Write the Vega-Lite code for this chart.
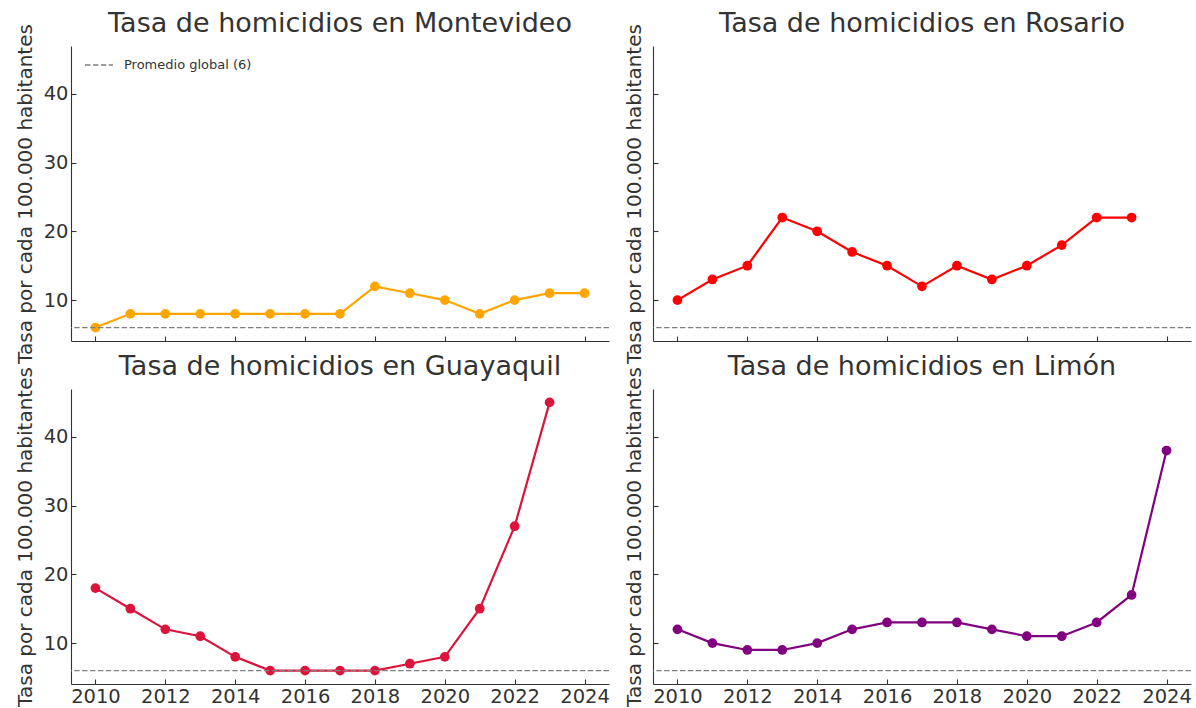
{
  "$schema": "https://vega.github.io/schema/vega-lite/v6.json",
  "padding": {"left": 15, "top": 9, "right": 0, "bottom": 0},
  "background": "white",
  "config": {
    "font": "DejaVu Sans",
    "view": {"stroke": null},
    "axis": {
      "grid": false,
      "domainColor": "#333333",
      "tickColor": "#333333",
      "labelColor": "#333333",
      "titleColor": "#333333",
      "labelFontSize": 19.5,
      "titleFontSize": 20,
      "titleFontWeight": "normal",
      "tickSize": -5,
      "labelPadding": 8,
      "domainWidth": 1.1,
      "tickWidth": 1.1,
      "labelFlush": false,
      "labelOverlap": false
    },
    "axisY": {"titlePadding": 8},
    "title": {"fontSize": 27, "fontWeight": "normal", "color": "#333333", "offset": -14, "anchor": "middle"},
    "legend": {"labelColor": "#333333"}
  },
  "datasets": {
    "tasas": [
      {"ciudad": "Montevideo", "anio": 2010, "tasa": 6},
      {"ciudad": "Montevideo", "anio": 2011, "tasa": 8},
      {"ciudad": "Montevideo", "anio": 2012, "tasa": 8},
      {"ciudad": "Montevideo", "anio": 2013, "tasa": 8},
      {"ciudad": "Montevideo", "anio": 2014, "tasa": 8},
      {"ciudad": "Montevideo", "anio": 2015, "tasa": 8},
      {"ciudad": "Montevideo", "anio": 2016, "tasa": 8},
      {"ciudad": "Montevideo", "anio": 2017, "tasa": 8},
      {"ciudad": "Montevideo", "anio": 2018, "tasa": 12},
      {"ciudad": "Montevideo", "anio": 2019, "tasa": 11},
      {"ciudad": "Montevideo", "anio": 2020, "tasa": 10},
      {"ciudad": "Montevideo", "anio": 2021, "tasa": 8},
      {"ciudad": "Montevideo", "anio": 2022, "tasa": 10},
      {"ciudad": "Montevideo", "anio": 2023, "tasa": 11},
      {"ciudad": "Montevideo", "anio": 2024, "tasa": 11},
      {"ciudad": "Rosario", "anio": 2010, "tasa": 10},
      {"ciudad": "Rosario", "anio": 2011, "tasa": 13},
      {"ciudad": "Rosario", "anio": 2012, "tasa": 15},
      {"ciudad": "Rosario", "anio": 2013, "tasa": 22},
      {"ciudad": "Rosario", "anio": 2014, "tasa": 20},
      {"ciudad": "Rosario", "anio": 2015, "tasa": 17},
      {"ciudad": "Rosario", "anio": 2016, "tasa": 15},
      {"ciudad": "Rosario", "anio": 2017, "tasa": 12},
      {"ciudad": "Rosario", "anio": 2018, "tasa": 15},
      {"ciudad": "Rosario", "anio": 2019, "tasa": 13},
      {"ciudad": "Rosario", "anio": 2020, "tasa": 15},
      {"ciudad": "Rosario", "anio": 2021, "tasa": 18},
      {"ciudad": "Rosario", "anio": 2022, "tasa": 22},
      {"ciudad": "Rosario", "anio": 2023, "tasa": 22},
      {"ciudad": "Guayaquil", "anio": 2010, "tasa": 18},
      {"ciudad": "Guayaquil", "anio": 2011, "tasa": 15},
      {"ciudad": "Guayaquil", "anio": 2012, "tasa": 12},
      {"ciudad": "Guayaquil", "anio": 2013, "tasa": 11},
      {"ciudad": "Guayaquil", "anio": 2014, "tasa": 8},
      {"ciudad": "Guayaquil", "anio": 2015, "tasa": 6},
      {"ciudad": "Guayaquil", "anio": 2016, "tasa": 6},
      {"ciudad": "Guayaquil", "anio": 2017, "tasa": 6},
      {"ciudad": "Guayaquil", "anio": 2018, "tasa": 6},
      {"ciudad": "Guayaquil", "anio": 2019, "tasa": 7},
      {"ciudad": "Guayaquil", "anio": 2020, "tasa": 8},
      {"ciudad": "Guayaquil", "anio": 2021, "tasa": 15},
      {"ciudad": "Guayaquil", "anio": 2022, "tasa": 27},
      {"ciudad": "Guayaquil", "anio": 2023, "tasa": 45},
      {"ciudad": "Limón", "anio": 2010, "tasa": 12},
      {"ciudad": "Limón", "anio": 2011, "tasa": 10},
      {"ciudad": "Limón", "anio": 2012, "tasa": 9},
      {"ciudad": "Limón", "anio": 2013, "tasa": 9},
      {"ciudad": "Limón", "anio": 2014, "tasa": 10},
      {"ciudad": "Limón", "anio": 2015, "tasa": 12},
      {"ciudad": "Limón", "anio": 2016, "tasa": 13},
      {"ciudad": "Limón", "anio": 2017, "tasa": 13},
      {"ciudad": "Limón", "anio": 2018, "tasa": 13},
      {"ciudad": "Limón", "anio": 2019, "tasa": 12},
      {"ciudad": "Limón", "anio": 2020, "tasa": 11},
      {"ciudad": "Limón", "anio": 2021, "tasa": 11},
      {"ciudad": "Limón", "anio": 2022, "tasa": 13},
      {"ciudad": "Limón", "anio": 2023, "tasa": 17},
      {"ciudad": "Limón", "anio": 2024, "tasa": 38}
    ],
    "promedio": [{"etiqueta": "Promedio global (6)", "valor": 6}]
  },
  "columns": 2,
  "spacing": {"row": 48, "column": 44},
  "bounds": "flush",
  "resolve": {"scale": {"x": "independent", "y": "independent"}},
  "concat": [
    {
      "title": "Tasa de homicidios en Montevideo",
      "width": 538, "height": 295,
      "layer": [
        {
          "data": {"name": "tasas"},
          "transform": [{"filter": "datum.ciudad === 'Montevideo'"}],
          "mark": {"type": "line", "color": "#FFA500", "strokeWidth": 2.2, "point": {"filled": true, "size": 95, "color": "#FFA500", "opacity": 1}},
          "encoding": {
            "x": {"field": "anio", "type": "quantitative", "scale": {"domain": [2009.3, 2024.7], "nice": false, "zero": false}, "axis": {"values": [2010, 2012, 2014, 2016, 2018, 2020, 2022, 2024], "format": "d", "title": null, "labels": false}},
            "y": {"field": "tasa", "type": "quantitative", "scale": {"domain": [4.05, 46.95], "nice": false, "zero": false}, "axis": {"values": [10, 20, 30, 40], "title": "Tasa por cada 100.000 habitantes", "labels": true}}
          }
        },
        {
          "data": {"name": "promedio"},
          "mark": {"type": "rule", "color": "#808080", "strokeWidth": 1.4},
          "encoding": {
            "y": {"field": "valor", "type": "quantitative"},
            "strokeDash": {"field": "etiqueta", "type": "nominal", "scale": {"range": [[5.5, 2.4]]},
              "legend": {"orient": "none", "legendX": 13, "legendY": 4, "title": null, "labelFontSize": 13, "labelColor": "#333333", "symbolType": "stroke", "symbolSize": 784, "symbolStrokeColor": "#808080", "symbolStrokeWidth": 1.4, "labelOffset": 10, "padding": 0}}
          }
        }
      ]
    },
    {
      "title": "Tasa de homicidios en Rosario",
      "width": 538, "height": 295,
      "layer": [
        {
          "data": {"name": "tasas"},
          "transform": [{"filter": "datum.ciudad === 'Rosario'"}],
          "mark": {"type": "line", "color": "#FF0000", "strokeWidth": 2.2, "point": {"filled": true, "size": 95, "color": "#FF0000", "opacity": 1}},
          "encoding": {
            "x": {"field": "anio", "type": "quantitative", "scale": {"domain": [2009.3, 2024.7], "nice": false, "zero": false}, "axis": {"values": [2010, 2012, 2014, 2016, 2018, 2020, 2022, 2024], "format": "d", "title": null, "labels": false}},
            "y": {"field": "tasa", "type": "quantitative", "scale": {"domain": [4.05, 46.95], "nice": false, "zero": false}, "axis": {"values": [10, 20, 30, 40], "title": "Tasa por cada 100.000 habitantes", "labels": false}}
          }
        },
        {
          "data": {"name": "promedio"},
          "mark": {"type": "rule", "color": "#808080", "strokeWidth": 1.4, "strokeDash": [5.5, 2.4]},
          "encoding": {"y": {"field": "valor", "type": "quantitative"}}
        }
      ]
    },
    {
      "title": "Tasa de homicidios en Guayaquil",
      "width": 538, "height": 295,
      "layer": [
        {
          "data": {"name": "tasas"},
          "transform": [{"filter": "datum.ciudad === 'Guayaquil'"}],
          "mark": {"type": "line", "color": "#DC143C", "strokeWidth": 2.2, "point": {"filled": true, "size": 95, "color": "#DC143C", "opacity": 1}},
          "encoding": {
            "x": {"field": "anio", "type": "quantitative", "scale": {"domain": [2009.3, 2024.7], "nice": false, "zero": false}, "axis": {"values": [2010, 2012, 2014, 2016, 2018, 2020, 2022, 2024], "format": "d", "title": null, "labels": true}},
            "y": {"field": "tasa", "type": "quantitative", "scale": {"domain": [4.05, 46.95], "nice": false, "zero": false}, "axis": {"values": [10, 20, 30, 40], "title": "Tasa por cada 100.000 habitantes", "labels": true}}
          }
        },
        {
          "data": {"name": "promedio"},
          "mark": {"type": "rule", "color": "#808080", "strokeWidth": 1.4, "strokeDash": [5.5, 2.4]},
          "encoding": {"y": {"field": "valor", "type": "quantitative"}}
        }
      ]
    },
    {
      "title": "Tasa de homicidios en Limón",
      "width": 538, "height": 295,
      "layer": [
        {
          "data": {"name": "tasas"},
          "transform": [{"filter": "datum.ciudad === 'Limón'"}],
          "mark": {"type": "line", "color": "#800080", "strokeWidth": 2.2, "point": {"filled": true, "size": 95, "color": "#800080", "opacity": 1}},
          "encoding": {
            "x": {"field": "anio", "type": "quantitative", "scale": {"domain": [2009.3, 2024.7], "nice": false, "zero": false}, "axis": {"values": [2010, 2012, 2014, 2016, 2018, 2020, 2022, 2024], "format": "d", "title": null, "labels": true}},
            "y": {"field": "tasa", "type": "quantitative", "scale": {"domain": [4.05, 46.95], "nice": false, "zero": false}, "axis": {"values": [10, 20, 30, 40], "title": "Tasa por cada 100.000 habitantes", "labels": false}}
          }
        },
        {
          "data": {"name": "promedio"},
          "mark": {"type": "rule", "color": "#808080", "strokeWidth": 1.4, "strokeDash": [5.5, 2.4]},
          "encoding": {"y": {"field": "valor", "type": "quantitative"}}
        }
      ]
    }
  ]
}
